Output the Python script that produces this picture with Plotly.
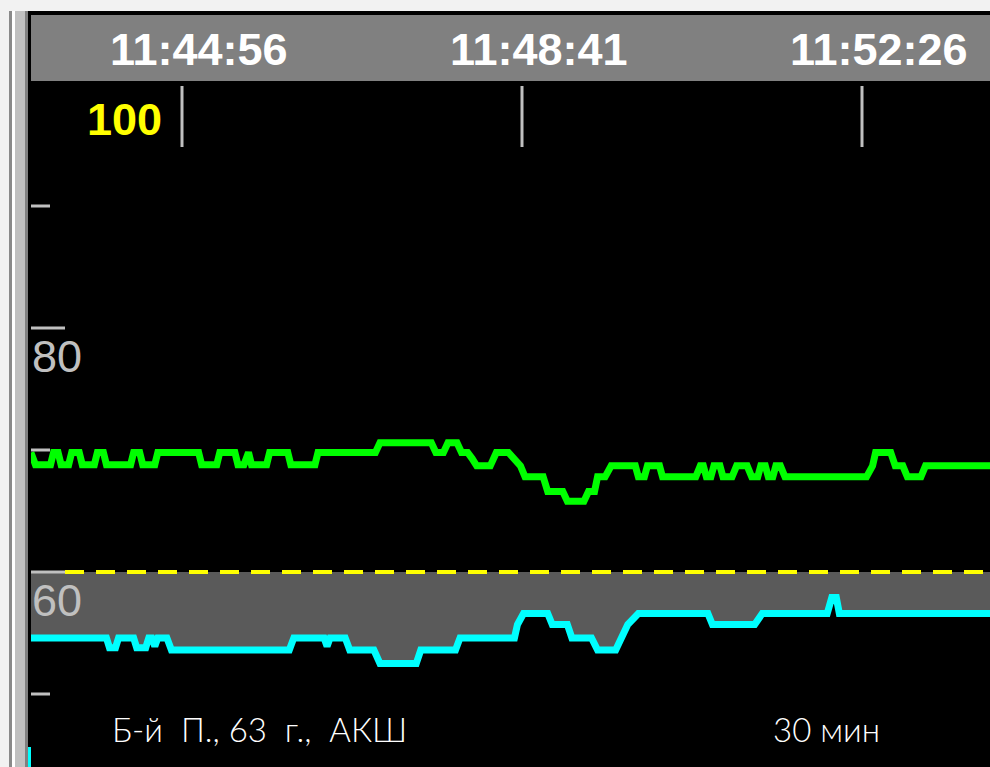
#! /usr/bin/env python3

import plotly.graph_objects as go

W, H = 990, 767

# time marks on the header
tick_times = ["11:44:56", "11:48:41", "11:52:26"]

# green trend, seconds from first time mark
green_t = [-100,
           -97, -87, -85,
           -82, -80, -75, -73,
           -68, -66, -58, -56,
           -52, -50, -34, -32,
           -28, -26, -18, -16,
           11, 13, 23, 25,
           35, 37, 41, 43,
           44, 46, 56, 58,
           70, 72, 88, 90,
           128, 131, 165, 168, 173, 176, 182, 185, 189, 192,
           195, 204, 208, 216, 219, 224, 227, 239, 242, 252,
           255, 266, 269, 273, 275, 280, 284, 300, 302, 306,
           308, 316, 318, 340, 343, 345, 347, 350, 352, 356,
           358, 364, 367, 374, 377, 381, 383, 386, 388, 391,
           393, 396, 399, 453, 457, 459, 469, 472, 477, 480,
           489, 492, 535]
green_v = [69.8,
           68.8, 68.8, 69.8,
           69.8, 68.8, 68.8, 69.8,
           69.8, 68.8, 68.8, 69.8,
           69.8, 68.8, 68.8, 69.8,
           69.8, 68.8, 68.8, 69.8,
           69.8, 68.8, 68.8, 69.8,
           69.8, 68.8, 68.8, 69.8,
           69.8, 68.8, 68.8, 69.8,
           69.8, 68.8, 68.8, 69.8,
           69.8, 70.6, 70.6, 69.8, 69.8, 70.6, 70.6, 69.8, 69.8, 69.3,
           68.7, 68.7, 69.8, 69.8, 69.3, 68.7, 67.8, 67.8, 66.6, 66.6,
           65.8, 65.8, 66.6, 66.6, 67.8, 67.8, 68.7, 68.7, 67.8, 67.8,
           68.7, 68.7, 67.8, 67.8, 68.7, 68.7, 67.8, 67.8, 68.7, 68.7,
           67.8, 67.8, 68.7, 68.7, 67.8, 67.8, 68.7, 68.7, 67.8, 67.8,
           68.7, 68.7, 67.8, 67.8, 68.7, 69.8, 69.8, 68.7, 68.7, 67.8,
           67.8, 68.7, 68.7]

# cyan trend
cyan_t = [-100, -50, -48, -44, -42, -32, -30, -24, -22, -20,
          -18, -16, -10, -7, 71, 74, 94, 96, 98, 108,
          111, 127, 131, 155, 158, 181, 184, 220, 222, 226,
          242, 245, 255, 258, 271, 275, 287, 291, 295, 302,
          348, 351, 379, 384, 427, 430, 433, 435, 535]
cyan_v = [54.6, 54.6, 53.8, 53.8, 54.6, 54.6, 53.8, 53.8, 54.6, 54.6,
          53.9, 54.6, 54.6, 53.6, 53.6, 54.6, 54.6, 53.9, 54.6, 54.6,
          53.6, 53.6, 52.5, 52.5, 53.6, 53.6, 54.6, 54.6, 55.7, 56.6,
          56.6, 55.7, 55.7, 54.6, 54.6, 53.6, 53.6, 54.6, 55.7, 56.6,
          56.6, 55.7, 55.7, 56.6, 56.6, 57.9, 57.9, 56.6, 56.6]

alarm_low = 60
scale_top = 100
scale_ticks = [90, 80, 70, 60, 50]
scale_labels = [80, 60]
patient = "Б-й  П., 63  г.,  АКШ"
span_label = "30 мин"

assert len(green_t) == len(green_v) and len(cyan_t) == len(cyan_v)


def secs(s):
    h, m, x = map(int, s.split(":"))
    return h * 3600 + m * 60 + x


t0 = secs(tick_times[0])
tick_t = [secs(s) - t0 for s in tick_times]

# pixel helpers for the decorations (figure has no margins)
def px(p):
    return p / W


def py(p):
    return 1 - p / H


digits = "Liberation Sans, Arial, sans-serif"
thin = "Lato, Noto Sans, sans-serif"

fig = go.Figure()

# grey alarm band between threshold and cyan trend
fig.add_trace(go.Scatter(x=cyan_t, y=[alarm_low] * len(cyan_t), mode="lines",
                         line=dict(width=0), hoverinfo="skip"))
fig.add_trace(go.Scatter(x=cyan_t, y=cyan_v, mode="lines", fill="tonexty",
                         fillcolor="#5a5a5a", line=dict(color="#00ffff", width=7)))
fig.add_trace(go.Scatter(x=green_t, y=green_v, mode="lines",
                         line=dict(color="#00ff00", width=7)))

shapes = []
# black screen and left window frame
shapes.append(dict(type="rect", xref="paper", yref="paper", layer="below",
                   x0=px(28), x1=1, y0=0, y1=py(11), fillcolor="black", line_width=0))
for a, b, c in [(9, 12, "#8a8a8a"), (12, 15, "#ffffff"), (15, 25, "#c0c0c0"), (25, 28, "#808080")]:
    shapes.append(dict(type="rect", xref="paper", yref="paper", layer="below",
                       x0=px(a), x1=px(b), y0=0, y1=py(11), fillcolor=c, line_width=0))
shapes.append(dict(type="rect", xref="paper", yref="paper",
                   x0=px(28), x1=px(31), y0=0, y1=py(747), fillcolor="#00ffff", line_width=0))
# header bar
shapes.append(dict(type="rect", xref="paper", yref="paper",
                   x0=px(31), x1=1, y0=py(81), y1=py(15), fillcolor="#808080", line_width=0))
# time marks
for t in tick_t:
    shapes.append(dict(type="line", xref="x", yref="paper", x0=t, x1=t,
                       y0=py(147), y1=py(86), line=dict(color="#c0c0c0", width=3)))
# scale ticks
for v in scale_ticks:
    right = 65 if v in scale_labels else 50
    shapes.append(dict(type="line", xref="paper", yref="y", x0=px(31), x1=px(right),
                       y0=v, y1=v, line=dict(color="#c0c0c0", width=3)))
# alarm threshold
shapes.append(dict(type="line", xref="paper", yref="y", x0=px(65), x1=1,
                   y0=alarm_low, y1=alarm_low,
                   line=dict(color="#ffff00", width=4, dash="19px,12px")))

annotations = []
for t, s in zip(tick_t, tick_times):
    annotations.append(dict(x=t, xref="x", xshift=17, y=py(49), yref="paper",
                            text=s, showarrow=False, xanchor="center", yanchor="middle",
                            font=dict(family=digits, size=45, color="white", weight="bold")))
annotations.append(dict(x=px(124), xref="paper", y=scale_top, yref="y", yshift=-36,
                        text=str(scale_top), showarrow=False, xanchor="center", yanchor="middle",
                        font=dict(family=digits, size=45, color="#ffff00", weight="bold")))
for v in scale_labels:
    annotations.append(dict(x=px(30), xref="paper", y=v, yref="y", yshift=-28,
                            text=str(v), showarrow=False, xanchor="left", yanchor="middle",
                            font=dict(family=digits, size=45, color="#c0c0c0")))
annotations.append(dict(x=px(110), xref="paper", y=py(729), yref="paper", text=patient,
                        showarrow=False, xanchor="left", yanchor="middle",
                        font=dict(family=thin, size=33, color="white", weight=300)))
annotations.append(dict(x=px(771), xref="paper", y=py(729), yref="paper", text=span_label,
                        showarrow=False, xanchor="left", yanchor="middle",
                        font=dict(family=thin, size=33, color="white", weight=300)))

y_lo = 80 - (767 - 328) / 12.2
y_hi = 80 + (328 - 81) / 12.2
fig.update_layout(
    width=W, height=H, margin=dict(l=0, r=0, t=0, b=0),
    paper_bgcolor="#f2f2f2", plot_bgcolor="black",
    showlegend=False, hovermode=False,
    xaxis=dict(domain=[px(31), 1], range=[(31 - 182) * 225 / 340, (990 - 182) * 225 / 340],
               visible=False),
    yaxis=dict(domain=[0, py(81)], range=[y_lo, y_hi], visible=False),
    shapes=shapes, annotations=annotations,
)
fig.write_html("out.html", config={"displayModeBar": False},
               post_script="document.body.style.margin='0';")
